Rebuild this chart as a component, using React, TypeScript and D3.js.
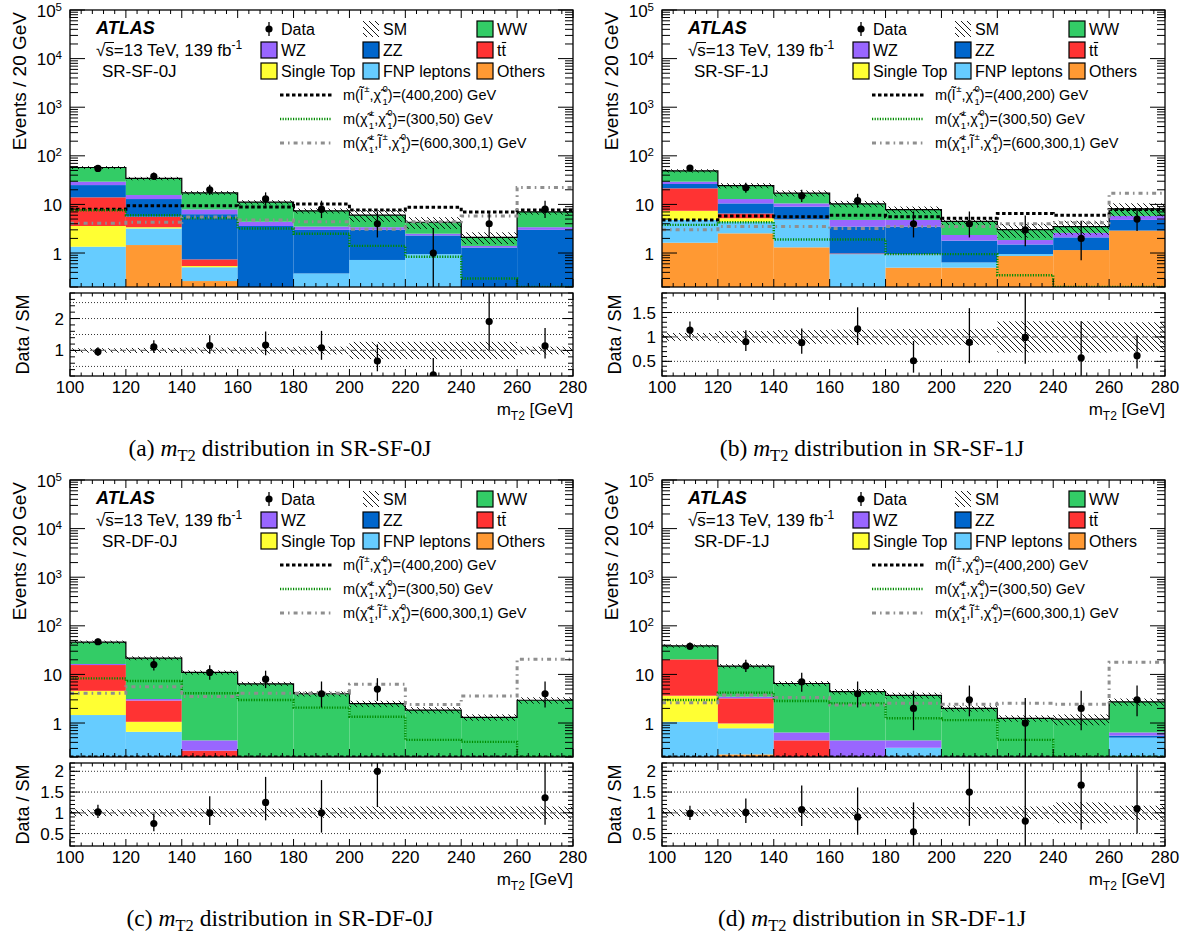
import React from "react";
import * as d3 from "d3";

const FONT = "'Liberation Sans', Arial, Helvetica, sans-serif";
const SERIF = "'Liberation Serif', 'Times New Roman', serif";

const binEdges = [100, 120, 140, 160, 180, 200, 220, 240, 260, 280];
const xMajorTicks = [100, 120, 140, 160, 180, 200, 220, 240, 260, 280];
const yDecadeLabels = [
  { v: 1, base: "1", exp: "" },
  { v: 10, base: "10", exp: "" },
  { v: 100, base: "10", exp: "2" },
  { v: 1000, base: "10", exp: "3" },
  { v: 10000, base: "10", exp: "4" },
  { v: 100000, base: "10", exp: "5" },
];
const Y_MIN = 0.2;
const Y_MAX = 1e5;

// ---------- (a) SR-SF-0J ----------
const sf0jOthers = [0, 1.46, 0.265, 0.02, 0, 0, 0, 0, 0];
const sf0jFNP = [1.35, 1.74, 0.245, 0.08, 0.38, 0.72, 0.95, 0, 0];
const sf0jSingleTop = [2.25, 0.2, 0.03, 0, 0, 0, 0, 0, 0];
const sf0jTtbar = [10.4, 2.2, 0.2, 0, 0, 0, 0, 0, 0];
const sf0jZZ = [11, 7.3, 5.56, 3.5, 2.62, 2.28, 1.35, 1.3, 3.0];
const sf0jWZ = [4.4, 2.7, 1.6, 0.8, 0.5, 0.4, 0.2, 0.1, 0.4];
const sf0jWW = [28.1, 18.6, 9.4, 6.7, 3.9, 2.6, 1.8, 0.7, 3.6];
const sf0jData = [55, 38, 20, 13, 8, 4, 1, 4, 8];
const sf0jSlep = [8.0, 9.4, 9.4, 8.8, 10.2, 7.7, 8.7, 7.0, 7.7];
const sf0jC1 = [7.6, 6.0, 5.2, 3.2, 2.5, 1.4, 0.84, 0.3, 0.1];
const sf0jC1Slep = [4.1, 4.3, 5.5, 4.8, 4.4, 3.1, 4.4, 5.8, 22.4];
const sf0jSMErr = [0.07, 0.08, 0.09, 0.1, 0.12, 0.27, 0.27, 0.27, 0.12];

// ---------- (b) SR-SF-1J ----------
const sf1jOthers = [1.63, 2.54, 1.31, 0, 0.5, 0.5, 0.87, 1.15, 2.9];
const sf1jFNP = [3.17, 1.86, 3.49, 0.95, 0.44, 0.14, 0.08, 0, 0];
const sf1jSingleTop = [2.6, 0.8, 0.05, 0, 0, 0, 0, 0, 0];
const sf1jTtbar = [14, 1.3, 0.05, 0.03, 0.01, 0, 0, 0, 0];
const sf1jZZ = [4.9, 4.0, 4.1, 2.52, 2.55, 1.16, 0.55, 0.95, 1.9];
const sf1jWZ = [3.1, 2.4, 1.5, 1.3, 1.3, 0.55, 0.35, 0.5, 1.0];
const sf1jWW = [19.7, 11.5, 6.5, 5.5, 3.0, 2.15, 1.18, 0.9, 2.3];
const sf1jData = [56, 22, 15, 12, 4, 4, 3, 2, 5];
const sf1jSlep = [4.8, 5.8, 5.6, 6.0, 5.6, 5.2, 6.5, 6.0, 7.9];
const sf1jC1 = [3.8, 4.3, 1.9, 1.9, 0.95, 0.95, 0.35, 0.1, 0.1];
const sf1jC1Slep = [3.0, 3.5, 3.5, 3.2, 3.5, 3.5, 4.0, 4.2, 16.9];
const sf1jSMErr = [0.08, 0.12, 0.14, 0.15, 0.16, 0.16, 0.32, 0.32, 0.3];

// ---------- (c) SR-DF-0J ----------
const df0jOthers = [0, 0, 0, 0, 0, 0, 0, 0, 0];
const df0jFNP = [1.46, 0.66, 0, 0, 0, 0, 0, 0, 0];
const df0jSingleTop = [3.14, 0.4, 0, 0, 0, 0, 0, 0, 0];
const df0jTtbar = [11.0, 1.84, 0.27, 0.02, 0, 0, 0, 0, 0];
const df0jZZ = [0, 0, 0, 0, 0, 0, 0, 0, 0];
const df0jWZ = [0.8, 0.22, 0.17, 0.03, 0, 0, 0, 0, 0];
const df0jWW = [29.6, 18.48, 10.56, 6.35, 4.0, 2.5, 1.85, 1.31, 2.94];
const df0jData = [47, 16, 11, 8, 4, 5, 0, 0, 4];
const df0jSlep = [0, 0, 0, 0, 0, 0, 0, 0, 0];
const df0jC1 = [8.3, 7.3, 4.1, 2.97, 2.07, 1.35, 0.45, 0.41, 0.1];
const df0jC1Slep = [4.1, 5.6, 3.5, 4.1, 4.1, 6.25, 2.4, 3.6, 20.4];
const df0jSMErr = [0.08, 0.09, 0.1, 0.1, 0.12, 0.15, 0.15, 0.15, 0.15];

// ---------- (d) SR-DF-1J ----------
const df1jOthers = [0, 0.226, 0, 0, 0, 0, 0, 0, 0];
const df1jFNP = [1.06, 0.554, 0, 0, 0.31, 0, 0, 0, 0.5];
const df1jSingleTop = [2.59, 0.2, 0, 0, 0, 0, 0, 0, 0];
const df1jTtbar = [16.75, 2.24, 0.44, 0.02, 0, 0, 0, 0, 0];
const df1jZZ = [0, 0, 0, 0, 0, 0, 0, 0, 0.05];
const df1jWZ = [0, 0.26, 0.2, 0.42, 0.13, 0, 0, 0, 0.09];
const df1jWW = [18.2, 11.37, 5.86, 4.0, 3.26, 2.0, 1.25, 1.2, 2.09];
const df1jData = [38, 15, 7, 4, 2, 3, 1, 2, 3];
const df1jSlep = [0, 0, 0, 0, 0, 0, 0, 0, 0];
const df1jC1 = [2.97, 4.2, 2.84, 2.54, 1.25, 1.15, 0.45, 0.1, 0.1];
const df1jC1Slep = [2.6, 3.77, 3.37, 2.35, 2.54, 2.42, 2.54, 2.42, 17.7];
const df1jSMErr = [0.08, 0.1, 0.12, 0.13, 0.14, 0.14, 0.15, 0.25, 0.17];

const COLORS = {
  others: "#ff9933",
  fnp: "#66ccff",
  st: "#ffff33",
  tt: "#ff3333",
  zz: "#0066cc",
  wz: "#9966ff",
  ww: "#33cc66",
};
const SIG_STYLES = [
  { stroke: "#000000", width: 3, dash: "3.5,2.5" },
  { stroke: "#008c00", width: 2.4, dash: "1.2,1.4" },
  { stroke: "#8f8f8f", width: 3, dash: "4,4,1.6,4" },
];

type PanelCfg = {
  id: string;
  ox: number;
  oy: number;
  region: string;
  letter: string;
  comps: number[][];
  data: number[];
  signals: number[][];
  smErr: number[];
  rDomain: [number, number];
  rMajor: number[];
  rLabels: string[];
  rMinorStep: number;
  rGrid: number[];
};

const panels: PanelCfg[] = [
  {
    id: "a", ox: 0, oy: 0, region: "SR-SF-0J", letter: "(a)",
    comps: [sf0jOthers, sf0jFNP, sf0jSingleTop, sf0jTtbar, sf0jZZ, sf0jWZ, sf0jWW],
    data: sf0jData, signals: [sf0jSlep, sf0jC1, sf0jC1Slep], smErr: sf0jSMErr,
    rDomain: [0.2, 2.8], rMajor: [1, 2], rLabels: ["1", "2"], rMinorStep: 0.2, rGrid: [0.5, 1.5, 2, 2.5],
  },
  {
    id: "b", ox: 592, oy: 0, region: "SR-SF-1J", letter: "(b)",
    comps: [sf1jOthers, sf1jFNP, sf1jSingleTop, sf1jTtbar, sf1jZZ, sf1jWZ, sf1jWW],
    data: sf1jData, signals: [sf1jSlep, sf1jC1, sf1jC1Slep], smErr: sf1jSMErr,
    rDomain: [0.2, 1.9], rMajor: [0.5, 1, 1.5], rLabels: ["0.5", "1", "1.5"], rMinorStep: 0.1, rGrid: [0.5, 1.5],
  },
  {
    id: "c", ox: 0, oy: 470, region: "SR-DF-0J", letter: "(c)",
    comps: [df0jOthers, df0jFNP, df0jSingleTop, df0jTtbar, df0jZZ, df0jWZ, df0jWW],
    data: df0jData, signals: [df0jSlep, df0jC1, df0jC1Slep], smErr: df0jSMErr,
    rDomain: [0.2, 2.2], rMajor: [0.5, 1, 1.5, 2], rLabels: ["0.5", "1", "1.5", "2"], rMinorStep: 0.1, rGrid: [0.5, 1.5, 2],
  },
  {
    id: "d", ox: 592, oy: 470, region: "SR-DF-1J", letter: "(d)",
    comps: [df1jOthers, df1jFNP, df1jSingleTop, df1jTtbar, df1jZZ, df1jWZ, df1jWW],
    data: df1jData, signals: [df1jSlep, df1jC1, df1jC1Slep], smErr: df1jSMErr,
    rDomain: [0.2, 2.2], rMajor: [0.5, 1, 1.5, 2], rLabels: ["0.5", "1", "1.5", "2"], rMinorStep: 0.1, rGrid: [0.5, 1.5, 2],
  },
];
const compColors = [COLORS.others, COLORS.fnp, COLORS.st, COLORS.tt, COLORS.zz, COLORS.wz, COLORS.ww];

// Poisson (Garwood-like) interval, Wilson-Hilferty approximation
function poisson(n: number): [number, number] {
  const lo = n <= 0 ? 0 : n * Math.pow(1 - 1 / (9 * n) - 1 / (3 * Math.sqrt(n)), 3);
  const m = n + 1;
  const hi = m * Math.pow(1 - 1 / (9 * m) + 1 / (3 * Math.sqrt(m)), 3);
  return [lo, hi];
}

type Seg = { t: string; sup?: string; sub?: string };
function Rich({ x, y, segs, size, anchor }: { x: number; y: number; segs: Seg[]; size: number; anchor?: string }) {
  const small = size * 0.66;
  const out: React.ReactNode[] = [];
  let cur = 0;
  segs.forEach((s, i) => {
    if (s.t) {
      out.push(<tspan key={i + "t"} dy={-cur}>{s.t}</tspan>);
      cur = 0;
    }
    const up = -size * 0.52;
    const dn = size * 0.32;
    if (s.sup && s.sub) {
      out.push(<tspan key={i + "p"} fontSize={small} dx={1.5} dy={up - cur}>{s.sup}</tspan>);
      cur = up;
      const w = s.sup.length * small * 0.57;
      out.push(<tspan key={i + "b"} fontSize={small} dx={-w} dy={dn - cur}>{s.sub}</tspan>);
      cur = dn;
    } else if (s.sup) {
      out.push(<tspan key={i + "p"} fontSize={small} dx={1} dy={up - cur}>{s.sup}</tspan>);
      cur = up;
    } else if (s.sub) {
      out.push(<tspan key={i + "b"} fontSize={small} dy={dn - cur}>{s.sub}</tspan>);
      cur = dn;
    }
  });
  return (
    <text x={x} y={y} fontSize={size} fontFamily={FONT} textAnchor={anchor || "start"}>
      {out}
    </text>
  );
}

const LT = "l\u0303";
const CHI = "\u03c7\u0303";
const sigLabels: Seg[][] = [
  [{ t: "m(" + LT, sup: "\u00b1" }, { t: "," + CHI, sup: "0", sub: "1" }, { t: ")=(400,200) GeV" }],
  [{ t: "m(" + CHI, sup: "\u00b1", sub: "1" }, { t: "," + CHI, sup: "0", sub: "1" }, { t: ")=(300,50) GeV" }],
  [{ t: "m(" + CHI, sup: "\u00b1", sub: "1" }, { t: "," + LT, sup: "\u00b1" }, { t: "," + CHI, sup: "0", sub: "1" }, { t: ")=(600,300,1) GeV" }],
];

function Panel({ p }: { p: PanelCfg }) {
  const L = 70, R = 573, T = 10, B = 287, RT = 293, RB = 376;
  const x = d3.scaleLinear().domain([100, 280]).range([L, R]);
  const y = d3.scaleLog().domain([Y_MIN, Y_MAX]).range([B, T]);
  const yc = (v: number) => y(Math.min(Y_MAX, Math.max(Y_MIN, v)));
  const yr = d3.scaleLinear().domain(p.rDomain).range([RB, RT]);
  const nb = binEdges.length - 1;
  const total = d3.range(nb).map((i) => d3.sum(p.comps, (c) => c[i]));
  const centers = d3.range(nb).map((i) => (binEdges[i] + binEdges[i + 1]) / 2);

  const rects: React.ReactNode[] = [];
  d3.range(nb).forEach((i) => {
    let cum = 0;
    p.comps.forEach((c, k) => {
      const v = c[i];
      if (v > 0) {
        const y0 = cum;
        cum += v;
        const ya = yc(cum);
        const yb = y0 <= 0 ? B : yc(y0);
        if (yb - ya > 0.05) {
          rects.push(
            <rect key={`s${i}-${k}`} x={x(binEdges[i])} width={x(binEdges[i + 1]) - x(binEdges[i])} y={ya} height={yb - ya} fill={compColors[k]} />
          );
        }
      }
    });
  });

  const stepPath = (vals: number[], f: (v: number) => number) => {
    let s = `M${x(binEdges[0])},${f(vals[0])}`;
    vals.forEach((v, i) => {
      if (i > 0) s += `V${f(v)}`;
      s += `H${x(binEdges[i + 1])}`;
    });
    return s;
  };

  // ticks
  const xMinor = d3.range(100, 281, 4).filter((v) => (v - 100) % 20 !== 0);
  let tickMain = "";
  xMajorTicks.forEach((v) => {
    const X = x(v);
    tickMain += `M${X},${B}V${B - 8}M${X},${T}V${T + 8}`;
  });
  xMinor.forEach((v) => {
    const X = x(v);
    tickMain += `M${X},${B}V${B - 4}M${X},${T}V${T + 4}`;
  });
  for (let e = -1; e <= 5; e++) {
    for (let m = 1; m <= 9; m++) {
      const v = m * Math.pow(10, e);
      if (v < Y_MIN - 1e-9 || v > Y_MAX * 1.0001) continue;
      const Y = y(v);
      const len = m === 1 ? 15 : 8;
      tickMain += `M${L},${Y}H${L + len}M${R},${Y}H${R - len}`;
    }
  }
  let tickRatio = "";
  xMajorTicks.forEach((v) => {
    const X = x(v);
    tickRatio += `M${X},${RB}V${RB - 7}M${X},${RT}V${RT + 7}`;
  });
  xMinor.forEach((v) => {
    const X = x(v);
    tickRatio += `M${X},${RB}V${RB - 3.5}M${X},${RT}V${RT + 3.5}`;
  });
  const rMinor = d3
    .range(Math.ceil(p.rDomain[0] / p.rMinorStep - 1e-6), Math.floor(p.rDomain[1] / p.rMinorStep + 1e-6) + 1)
    .map((k) => k * p.rMinorStep);
  rMinor.forEach((v) => {
    const Y = yr(v);
    tickRatio += `M${L},${Y}H${L + 5}M${R},${Y}H${R - 5}`;
  });
  p.rMajor.forEach((v) => {
    const Y = yr(v);
    tickRatio += `M${L},${Y}H${L + 10}M${R},${Y}H${R - 10}`;
  });

  const clipM = `clipM-${p.id}`;
  const clipR = `clipR-${p.id}`;

  // legend
  const c1 = 261, c2 = 363, c3 = 477;
  const rows = [29, 50, 71];
  const box = (bx: number, cy: number, fill: string, key: string) => (
    <rect key={key} x={bx} y={cy - 8} width={16} height={16} fill={fill} stroke="#000" strokeWidth={1.2} />
  );
  const legText = (tx: number, cy: number, s: string, key: string) => (
    <text key={key} x={tx} y={cy + 6} fontSize={16} fontFamily={FONT}>{s}</text>
  );

  return (
    <g transform={`translate(${p.ox},${p.oy})`}>
      <defs>
        <clipPath id={clipM}><rect x={L} y={T} width={R - L} height={B - T} /></clipPath>
        <clipPath id={clipR}><rect x={L} y={RT} width={R - L} height={RB - RT} /></clipPath>
      </defs>
      {/* main plot */}
      <g clipPath={`url(#${clipM})`}>
        {rects}
        {d3.range(nb).map((i) => {
          const lo = yc(total[i] * (1 - p.smErr[i]));
          const hi = yc(total[i] * (1 + p.smErr[i]));
          return <rect key={`h${i}`} x={x(binEdges[i])} width={x(binEdges[i + 1]) - x(binEdges[i])} y={hi} height={lo - hi} fill="url(#hatchSM)" />;
        })}
        <path d={stepPath(total, yc)} fill="none" stroke="#000" strokeWidth={1.2} />
        {p.signals.map((s, k) => (
          <path key={`sig${k}`} d={stepPath(s, yc)} fill="none" stroke={SIG_STYLES[k].stroke} strokeWidth={SIG_STYLES[k].width} strokeDasharray={SIG_STYLES[k].dash} />
        ))}
        {p.data.map((n, i) => {
          if (n <= 0) return null;
          const [lo, hi] = poisson(n);
          const cx = x(centers[i]);
          return (
            <g key={`d${i}`}>
              <line x1={cx} x2={cx} y1={yc(lo)} y2={yc(hi)} stroke="#000" strokeWidth={1.3} />
              <circle cx={cx} cy={yc(n)} r={3.6} fill="#000" />
            </g>
          );
        })}
      </g>
      <path d={tickMain} stroke="#000" strokeWidth={1} fill="none" />
      <rect x={L} y={T} width={R - L} height={B - T} fill="none" stroke="#000" strokeWidth={1.3} />

      {/* y labels main */}
      {yDecadeLabels.map((d) => (
        <text key={`yl${d.v}`} x={62} y={y(d.v) + 6.5} fontSize={17} fontFamily={FONT} textAnchor="end">
          {d.base}
          {d.exp ? <tspan fontSize={11.5} dy={-6}>{d.exp}</tspan> : null}
        </text>
      ))}
      <text transform={`translate(26,12) rotate(-90)`} fontSize={19} fontFamily={FONT} textAnchor="end">Events / 20 GeV</text>

      {/* ATLAS label */}
      <text x={96} y={34} fontSize={18} fontFamily={FONT} fontWeight="bold" fontStyle="italic">ATLAS</text>
      <text x={96} y={56} fontSize={17} fontFamily={FONT}>
        {"\u221As=13 TeV, 139 fb"}
        <tspan fontSize={12} dy={-7}>-1</tspan>
      </text>
      <line x1={104.5} x2={114} y1={42.5} y2={42.5} stroke="#000" strokeWidth={1} />
      <text x={102} y={77} fontSize={17} fontFamily={FONT}>{p.region}</text>

      {/* legend */}
      <g>
        <line x1={269} x2={269} y1={rows[0] - 7} y2={rows[0] + 7} stroke="#000" strokeWidth={1.3} />
        <circle cx={269} cy={rows[0]} r={3.6} fill="#000" />
        {legText(281, rows[0], "Data", "lt0")}
        <rect x={c2} y={rows[0] - 8} width={16} height={16} fill="url(#hatchSM)" />
        {legText(383, rows[0], "SM", "lt1")}
        {box(c3, rows[0], COLORS.ww, "b2")}
        {legText(497, rows[0], "WW", "lt2")}
        {box(c1, rows[1], COLORS.wz, "b3")}
        {legText(281, rows[1], "WZ", "lt3")}
        {box(c2, rows[1], COLORS.zz, "b4")}
        {legText(383, rows[1], "ZZ", "lt4")}
        {box(c3, rows[1], COLORS.tt, "b5")}
        {legText(497, rows[1], "tt", "lt5")}
        <line x1={501.8} x2={506.2} y1={rows[1] - 7.5} y2={rows[1] - 7.5} stroke="#000" strokeWidth={1.1} />
        {box(c1, rows[2], COLORS.st, "b6")}
        {legText(281, rows[2], "Single Top", "lt6")}
        {box(c2, rows[2], COLORS.fnp, "b7")}
        {legText(383, rows[2], "FNP leptons", "lt7")}
        {box(c3, rows[2], COLORS.others, "b8")}
        {legText(497, rows[2], "Others", "lt8")}
        {[95, 119, 143].map((cy, k) => (
          <g key={`sl${k}`}>
            <line x1={280} x2={332} y1={cy} y2={cy} stroke={SIG_STYLES[k].stroke} strokeWidth={SIG_STYLES[k].width} strokeDasharray={SIG_STYLES[k].dash} />
            <Rich x={343} y={cy + 5} segs={sigLabels[k]} size={14.5} />
          </g>
        ))}
      </g>

      {/* ratio */}
      <g clipPath={`url(#${clipR})`}>
        {p.rGrid.map((g) => (
          <line key={`g${g}`} x1={L} x2={R} y1={yr(g)} y2={yr(g)} stroke="#000" strokeWidth={0.8} strokeDasharray="1,2" />
        ))}
        {d3.range(nb).map((i) => (
          <rect key={`rh${i}`} x={x(binEdges[i])} width={x(binEdges[i + 1]) - x(binEdges[i])} y={yr(1 + p.smErr[i])} height={yr(1 - p.smErr[i]) - yr(1 + p.smErr[i])} fill="url(#hatchSM)" />
        ))}
        <line x1={L} x2={R} y1={yr(1)} y2={yr(1)} stroke="#777" strokeWidth={1.2} strokeDasharray="6,4" />
        {p.data.map((n, i) => {
          if (n <= 0) return null;
          const [lo, hi] = poisson(n);
          const cx = x(centers[i]);
          const r = n / total[i];
          const ry = Math.min(RB, Math.max(RT, yr(r)));
          return (
            <g key={`rd${i}`}>
              <line x1={cx} x2={cx} y1={yr(lo / total[i])} y2={yr(hi / total[i])} stroke="#000" strokeWidth={1.3} />
              <circle cx={cx} cy={ry} r={3.6} fill="#000" />
            </g>
          );
        })}
      </g>
      <path d={tickRatio} stroke="#000" strokeWidth={1} fill="none" />
      <rect x={L} y={RT} width={R - L} height={RB - RT} fill="none" stroke="#000" strokeWidth={1.3} />
      {p.rMajor.map((v, k) => (
        <text key={`rl${k}`} x={64} y={yr(v) + 6} fontSize={17} fontFamily={FONT} textAnchor="end">{p.rLabels[k]}</text>
      ))}
      <text transform={`translate(29,${(RT + RB) / 2}) rotate(-90)`} fontSize={18} fontFamily={FONT} textAnchor="middle">Data / SM</text>
      {xMajorTicks.map((v) => (
        <text key={`xl${v}`} x={x(v)} y={393} fontSize={17} fontFamily={FONT} textAnchor="middle">{v}</text>
      ))}
      <text x={R} y={415} fontSize={17} fontFamily={FONT} textAnchor="end">
        m<tspan fontSize={12} dy={5}>T2</tspan>
        <tspan dy={-5}> [GeV]</tspan>
      </text>

      {/* caption */}
      <text x={280} y={456} fontSize={23.5} fontFamily={SERIF} textAnchor="middle">
        {p.letter + " "}
        <tspan fontStyle="italic">m</tspan>
        <tspan fontSize={16.5} dy={4.5}>T2</tspan>
        <tspan dy={-4.5}>{" distribution in " + p.region}</tspan>
      </text>
    </g>
  );
}

export default function App() {
  return (
    <svg width={1192} height={938} style={{ position: "absolute", left: 0, top: 0, background: "#fff" }}>
      <defs>
        <pattern id="hatchSM" width={6} height={6} patternUnits="userSpaceOnUse">
          <path d="M-1,-1L7,7M-1,5L1,7M5,-1L7,1" stroke="#000" strokeWidth={0.9} />
        </pattern>
      </defs>
      <rect x={0} y={0} width={1192} height={938} fill="#fff" />
      {panels.map((p) => (
        <Panel key={p.id} p={p} />
      ))}
    </svg>
  );
}
